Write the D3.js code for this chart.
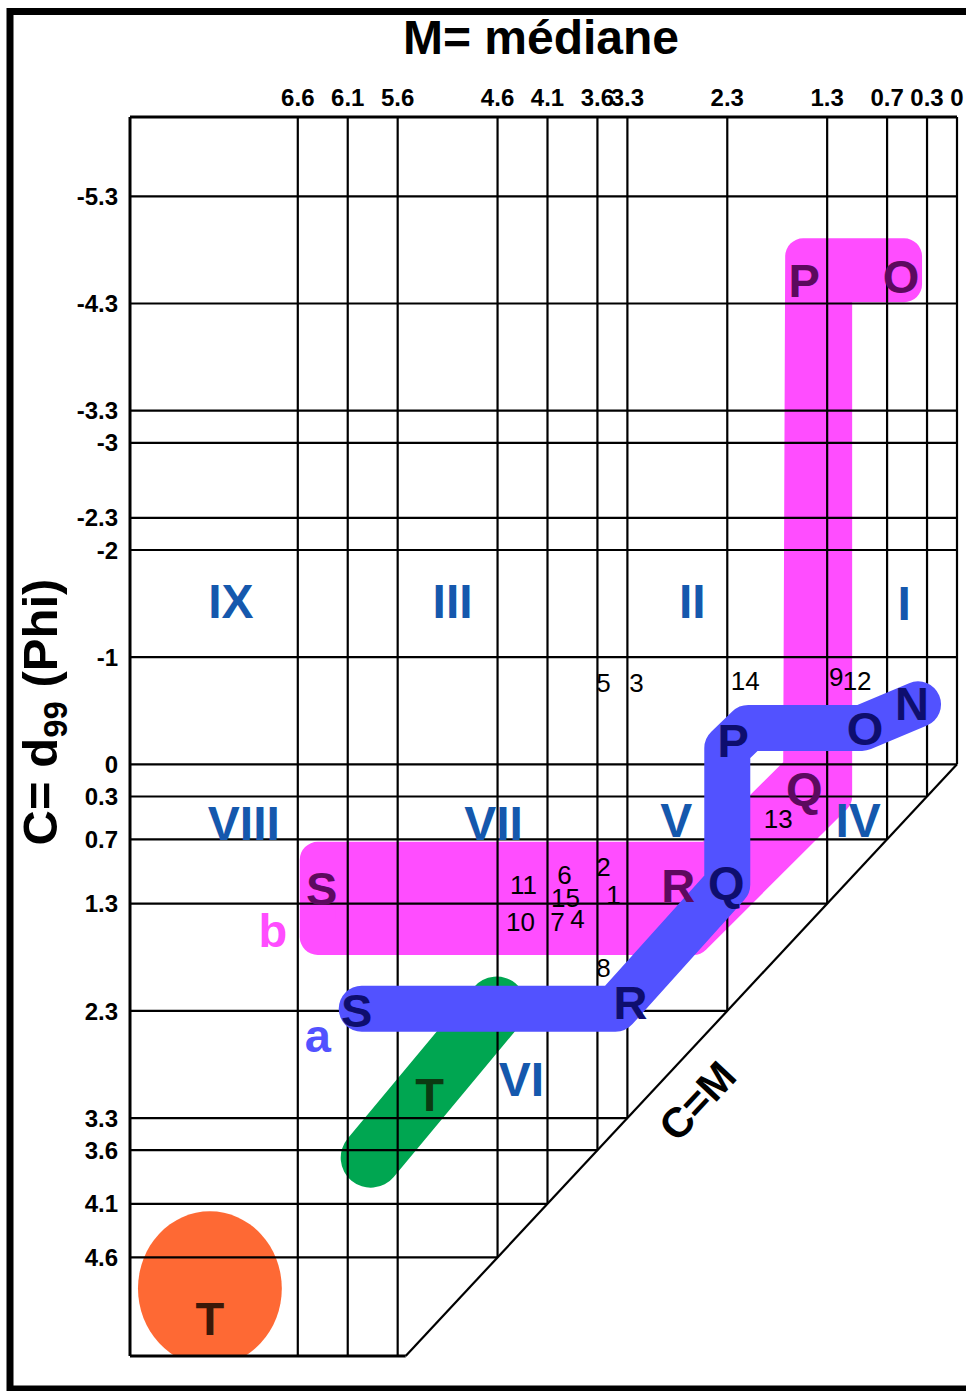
<!DOCTYPE html>
<html><head><meta charset="utf-8">
<script src="https://cdn.jsdelivr.net/npm/d3@7"></script>
<style>html,body{margin:0;padding:0;background:#fff;} svg{display:block;}</style>
</head><body>
<svg id="chart" width="966" height="1391"></svg>
<script>
// ---------- data ----------
const mTicks = [6.6, 6.1, 5.6, 4.6, 4.1, 3.6, 3.3, 2.3, 1.3, 0.7, 0.3, 0];
const mTickLabels = ["6.6","6.1","5.6","4.6","4.1","3.6","3.3","2.3","1.3","0.7","0.3","0"];
const cTicks = [-5.3, -4.3, -3.3, -3, -2.3, -2, -1, 0, 0.3, 0.7, 1.3, 2.3, 3.3, 3.6, 4.1, 4.6];
const cTickLabels = ["-5.3","-4.3","-3.3","-3","-2.3","-2","-1","0","0.3","0.7","1.3","2.3","3.3","3.6","4.1","4.6"];
const mExtent = [8.28, 0];
const cExtent = [-6.04, 5.52];

const zoneNames = ["IX","III","II","I","VIII","VII","V","IV","VI"];
const zoneM = [7.27, 5.05, 2.65, 0.53, 7.14, 4.64, 2.81, 0.99, 4.36];
const zoneC = [-1.53, -1.53, -1.53, -1.51, 0.54, 0.54, 0.52, 0.52, 2.93];

const sampleIds = ["5","3","14","9","12","13","2","6","11","1","15","10","7","4","8"];
const sampleM = [3.54, 3.21, 2.12, 1.21, 1.00, 1.79, 3.54, 3.93, 4.34, 3.44, 3.92, 4.37, 4.00, 3.80, 3.54];
const sampleC = [-0.76, -0.76, -0.78, -0.82, -0.78, 0.51, 0.95, 1.03, 1.12, 1.22, 1.24, 1.47, 1.47, 1.44, 1.90];

// band a (blue) centre line
const bandA_M = [5.96, 3.42, 2.30, 2.30, 2.09, 0.95, 0.39];
const bandA_C = [2.28, 2.28, 1.12, -0.15, -0.34, -0.34, -0.56];
const bandA_labels = ["S","R","Q","P","O","N"];
const bandA_labelM = [6.01, 3.27, 2.31, 2.24, 0.92, 0.45];
const bandA_labelC = [2.29, 2.22, 1.10, -0.23, -0.34, -0.57];
const bandA_nameM = 6.40, bandA_nameC = 2.53;

// band b (magenta) outline
const bandB_M = [6.40, 2.47, 1.56, 1.54, 0.53, 0.53, 1.23, 1.23, 2.64, 6.40];
const bandB_C = [0.89, 0.89, 0.05, -4.74, -4.74, -4.48, -4.48, 0.30, 1.61, 1.61];
const bandB_labels = ["S","R","Q","P","O"];
const bandB_labelM = [6.36, 2.79, 1.53, 1.53, 0.56];
const bandB_labelC = [1.15, 1.13, 0.22, -4.52, -4.56];
const bandB_nameM = 6.85, bandB_nameC = 1.55;

// green T band centre line
const bandT_M = [5.87, 4.61];
const bandT_C = [3.67, 2.26];
const bandT_labelM = 5.28, bandT_labelC = 3.08;

// orange T disc
const discT_M = 7.48, discT_C = 4.89, discT_R = 0.72;
const discT_labelM = 7.48, discT_labelC = 5.17;

// diagonal C=M label
const diagLabelM = 2.60, diagLabelC = 3.14;

// ---------- drawing ----------
(function draw() {
const FONT = "'Liberation Sans', Arial, Helvetica, sans-serif";
const svg = d3.select("#chart");
const x = d3.scaleLinear().domain(mExtent).range([130, 957]);
const y = d3.scaleLinear().domain(cExtent).range([117, 1356]);
const pL = x(mExtent[0]), pR = x(0), pT = y(cExtent[0]), pB = y(cExtent[1]);

// outer frame
svg.append("rect").attr("x", 10).attr("y", 11.5).attr("width", 1000).attr("height", 1377.5)
  .attr("fill", "none").attr("stroke", "#000").attr("stroke-width", 7);

svg.append("defs").append("clipPath").attr("id", "plotclip")
  .append("rect").attr("x", pL).attr("y", pT).attr("width", pR - pL).attr("height", pB - pT);

const bands = svg.append("g");
// magenta band b
const idxB = d3.range(bandB_M.length);
bands.append("path")
  .attr("d", d3.line().x(i => x(bandB_M[i])).y(i => y(bandB_C[i])).curve(d3.curveLinearClosed)(idxB))
  .attr("fill", "#ff4dff").attr("stroke", "#ff4dff").attr("stroke-width", 36).attr("stroke-linejoin", "round");
// green band T
bands.append("path")
  .attr("d", d3.line().x(i => x(bandT_M[i])).y(i => y(bandT_C[i]))(d3.range(bandT_M.length)))
  .attr("fill", "none").attr("stroke", "#00a651").attr("stroke-width", 60).attr("stroke-linecap", "round");
// orange disc T
bands.append("ellipse").attr("clip-path", "url(#plotclip)")
  .attr("cx", x(discT_M)).attr("cy", y(discT_C))
  .attr("rx", Math.abs(x(discT_M + discT_R) - x(discT_M)))
  .attr("ry", Math.abs(y(discT_C + discT_R) - y(discT_C)))
  .attr("fill", "#fe6934");

// grid
const grid = svg.append("g").attr("stroke", "#000").attr("stroke-width", 2.2).attr("fill", "none");
mTicks.forEach(m => {
  const yEnd = Math.min(y(m), pB);
  grid.append("line").attr("x1", x(m)).attr("x2", x(m)).attr("y1", pT).attr("y2", yEnd);
});
cTicks.forEach(c => {
  const xEnd = c > 0 ? x(c) : pR;
  grid.append("line").attr("x1", pL).attr("x2", xEnd).attr("y1", y(c)).attr("y2", y(c));
});
const frame = svg.append("g").attr("stroke", "#000").attr("stroke-width", 3).attr("fill", "none");
frame.append("line").attr("x1", pL).attr("x2", pR).attr("y1", pT).attr("y2", pT);
frame.append("line").attr("x1", pL).attr("x2", pL).attr("y1", pT).attr("y2", pB);
frame.append("line").attr("x1", pL).attr("x2", x(cExtent[1])).attr("y1", pB).attr("y2", pB);
frame.append("line").attr("x1", x(cExtent[1])).attr("x2", pR).attr("y1", pB).attr("y2", y(0)).attr("stroke-width", 2.2);

// blue band a (on top of grid)
svg.append("path")
  .attr("d", d3.line().x(i => x(bandA_M[i])).y(i => y(bandA_C[i]))(d3.range(bandA_M.length)))
  .attr("fill", "none").attr("stroke", "#5252ff").attr("stroke-width", 46)
  .attr("stroke-linecap", "round").attr("stroke-linejoin", "round");

// axis tick labels
svg.append("g").selectAll("text").data(mTicks).join("text")
  .attr("x", d => x(d)).attr("y", 106).attr("text-anchor", "middle")
  .attr("font-family", FONT).attr("font-weight", "bold").attr("font-size", 24)
  .text((d, i) => mTickLabels[i]);
svg.append("g").selectAll("text").data(cTicks).join("text")
  .attr("x", 118).attr("y", d => y(d)).attr("dy", "0.36em").attr("text-anchor", "end")
  .attr("font-family", FONT).attr("font-weight", "bold").attr("font-size", 24)
  .text((d, i) => cTickLabels[i]);

// titles
svg.append("text").attr("x", 541).attr("y", 54).attr("text-anchor", "middle")
  .attr("font-family", FONT).attr("font-weight", "bold").attr("font-size", 48).text("M= médiane");
const yt = svg.append("text").attr("transform", "translate(57,712) rotate(-90)").attr("text-anchor", "middle")
  .attr("font-family", FONT).attr("font-weight", "bold").attr("font-size", 49);
yt.append("tspan").text("C= d");
yt.append("tspan").attr("font-size", 33).attr("dy", 10).text("99");
yt.append("tspan").attr("dy", -10).text(" (Phi)");

// diagonal label
svg.append("text")
  .attr("transform", `translate(${x(diagLabelM)},${y(diagLabelC)}) rotate(-47)`)
  .attr("text-anchor", "middle").attr("dy", "0.35em")
  .attr("font-family", FONT).attr("font-weight", "bold").attr("font-size", 42).text("C=M");

// zone numerals
svg.append("g").selectAll("text").data(zoneNames).join("text")
  .attr("x", (d, i) => x(zoneM[i])).attr("y", (d, i) => y(zoneC[i])).attr("dy", "0.36em")
  .attr("text-anchor", "middle").attr("fill", "#1558ad")
  .attr("font-family", FONT).attr("font-weight", "bold").attr("font-size", 48).text(d => d);

// samples
svg.append("g").selectAll("text").data(sampleIds).join("text")
  .attr("x", (d, i) => x(sampleM[i])).attr("y", (d, i) => y(sampleC[i])).attr("dy", "0.36em")
  .attr("text-anchor", "middle").attr("fill", "#000")
  .attr("font-family", FONT).attr("font-size", 26).text(d => d);

// band letters
function letters(names, ms, cs, color) {
  svg.append("g").selectAll("text").data(names).join("text")
    .attr("x", (d, i) => x(ms[i])).attr("y", (d, i) => y(cs[i])).attr("dy", "0.36em")
    .attr("text-anchor", "middle").attr("fill", color)
    .attr("font-family", FONT).attr("font-weight", "bold").attr("font-size", 47).text(d => d);
}
letters(bandB_labels, bandB_labelM, bandB_labelC, "#5c0a5e");
letters(bandA_labels, bandA_labelM, bandA_labelC, "#0e0e6e");
letters(["T"], [bandT_labelM], [bandT_labelC], "#0b3a12");
letters(["T"], [discT_labelM], [discT_labelC], "#3a1808");
letters(["a"], [bandA_nameM], [bandA_nameC], "#5252ff");
letters(["b"], [bandB_nameM], [bandB_nameC], "#ff4dff");
})();
</script>
</body></html>
